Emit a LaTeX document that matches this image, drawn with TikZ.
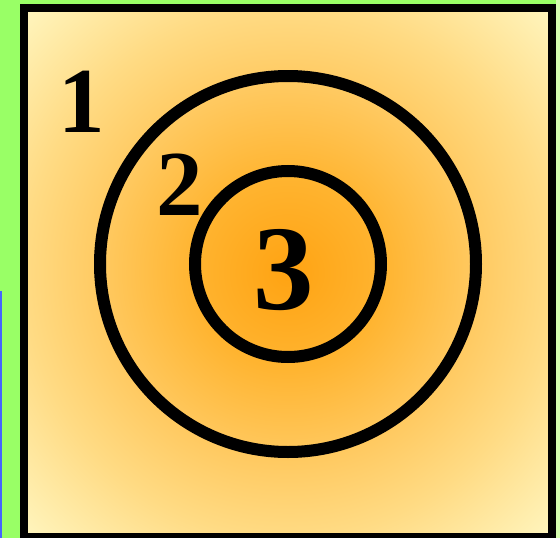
\documentclass[tikz,border=0pt]{standalone}
\usepackage{fontspec}
\setmainfont{Liberation Serif}
\usepackage{xcolor}
\usetikzlibrary{positioning}

\definecolor{leafgreen}{RGB}{153,255,102}
\definecolor{palegreen}{RGB}{214,255,176}
\definecolor{edgeblue}{RGB}{70,100,255}
\definecolor{coreorange}{RGB}{255,163,18}
\definecolor{midorange}{RGB}{255,180,48}
\definecolor{warmyellow}{RGB}{255,202,98}
\definecolor{softyellow}{RGB}{255,219,132}
\definecolor{paleyellow}{RGB}{255,246,192}
\pgfdeclareradialshading{glow}{\pgfpoint{0bp}{0bp}}{%
  color(0bp)=(coreorange); color(9bp)=(midorange);
  color(18bp)=(warmyellow); color(25bp)=(softyellow);
  color(35.5bp)=(paleyellow); color(50bp)=(paleyellow)}

\tikzset{
  ring/.style={draw=black, line width=12pt},
  digit/.style={inner sep=0pt, font=\bfseries\fontsize{93}{93}\selectfont},
  bigdigit/.style={inner sep=0pt, font=\bfseries\fontsize{121}{121}\selectfont}
}

\begin{document}
\begin{tikzpicture}[x=1pt, y=-1pt]
  % background and framed square
  \useasboundingbox (0,0) rectangle (560,538);
  \fill[leafgreen] (0,0) rectangle (560,538);
  \fill[palegreen] (556,0) rectangle (560,538);
  \draw[edgeblue, line width=1.5pt] (0.75,291) -- (0.75,538);
  \draw[black, line width=8pt, shading=glow] (24,8) rectangle (552,537);

  % nested circles
  \coordinate (ctr) at (288,264);
  \draw[ring] (ctr) circle[radius=188];
  \draw[ring] (ctr) circle[radius=93];

  % zone labels
  \node[digit] (one) at (82,102) {1};
  \node[digit] (two) at (180,185) {2};
  \node[bigdigit] (three) at (284,270) {3};
\end{tikzpicture}
\end{document}
